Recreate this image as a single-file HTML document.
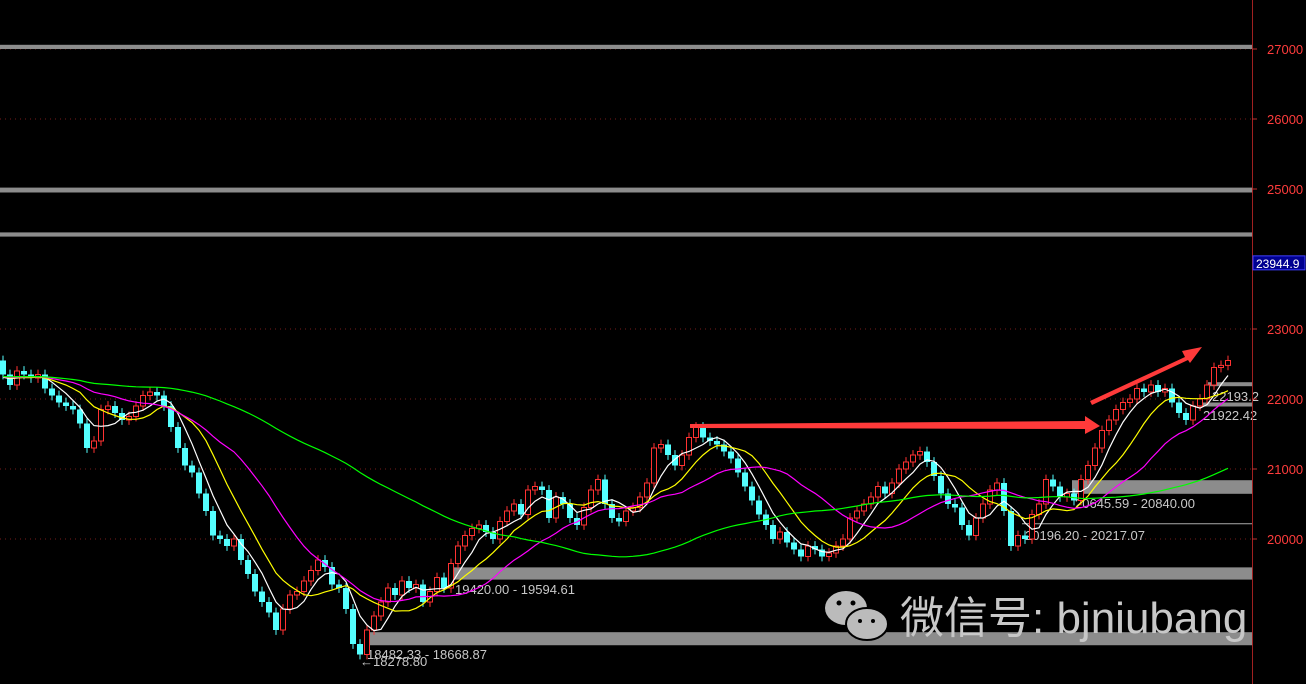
<!DOCTYPE html>
<html><head><meta charset="utf-8">
<style>
html,body{margin:0;padding:0;background:#000;}
svg{display:block;}
text{font-family:"Liberation Sans",sans-serif;}
</style></head>
<body>
<svg id="chart" width="1306" height="684" viewBox="0 0 1306 684" xmlns="http://www.w3.org/2000/svg">
<rect width="1306" height="684" fill="#000"/>
<g id="grid"></g>
<g id="zones"></g>
<g id="candles"></g>
<g id="mas"></g>
<g id="axis"></g>
<g>
<polygon points="690,424 1085,421 1085,416 1100,426 1085,434 1085,429 690,428" fill="#ff3a3a"/>
<polygon points="1090,401 1185,357 1182,351 1202,347 1190,363 1188,360 1092,405" fill="#ff3a3a"/>
</g>
<g>
<ellipse cx="846" cy="608" rx="21" ry="17" fill="#bbb"/>
<ellipse cx="867" cy="624" rx="21" ry="16" fill="#bbb" stroke="#000" stroke-width="2"/>
<circle cx="839" cy="603" r="2.5" fill="#000"/><circle cx="853" cy="603" r="2.5" fill="#000"/>
<circle cx="860" cy="621" r="2" fill="#000"/><circle cx="873" cy="621" r="2" fill="#000"/>
<text x="900" y="633" font-size="44" fill="#c8c8c8" font-family="Liberation Sans, Noto Sans CJK SC, sans-serif">微信号: bjniubang</text>
</g>
</svg>
<script>
const closes = [22350,22200,22400,22350,22300,22350,22150,22050,21950,21900,
21850,21650,21300,21400,21850,21900,21800,21700,21750,21900,
22050,22100,22050,21900,21600,21300,21050,20950,20650,20400,
20050,20000,19900,20000,19700,19500,19250,19100,18950,18700,
19000,19200,19250,19400,19550,19700,19600,19350,19300,19000,
18500,18350,18700,18900,19100,19300,19200,19400,19300,19350,
19100,19250,19450,19300,19650,19900,20050,20150,20200,20100,
20000,20250,20400,20500,20350,20700,20750,20700,20300,20600,
20500,20300,20200,20450,20700,20850,20500,20300,20250,20400,
20450,20600,20800,21300,21350,21200,21050,21200,21450,21600,
21450,21400,21350,21250,21150,20950,20750,20550,20350,20200,
20000,20100,19950,19850,19750,19900,19850,19750,19800,19900,
20000,20300,20400,20500,20600,20750,20650,20800,21000,21100,
21200,21250,21100,20900,20650,20500,20450,20200,20050,20300,
20500,20700,20800,20400,19900,20050,20000,20350,20500,20850,
20750,20600,20650,20550,20850,21050,21300,21550,21700,21850,
21950,22000,22150,22100,22200,22100,22150,21950,21800,21700,
21900,22000,22200,22450,22480,22550];
const history = [22300,22250,22350,22400,22300,22200,22250,22300,22350,22400,22450,22400,22350,22300,22250,22300,22350,22400,22300,22250,22300,22350,22400,22350,22300,22250,22300,22350,22300,22250];
const yTicks = [27000,26000,25000,23000,22000,21000,20000];
const priceTag = 23944.9;
const zoneBars = [[27060,27000],[25020,24950],[24380,24320]];
const NS="http://www.w3.org/2000/svg";
const yOf = p => 49 + (27000 - p) * 0.07;
const xOf = i => 3 + i * 7;
function mk(tag, attrs, parent){const e=document.createElementNS(NS,tag);for(const k in attrs)e.setAttribute(k,attrs[k]);parent.appendChild(e);return e;}
const grid=document.getElementById('grid'), zones=document.getElementById('zones'), cg=document.getElementById('candles'), mg=document.getElementById('mas'), ax=document.getElementById('axis');
yTicks.forEach(t=>{const l=mk('line',{x1:0,x2:1252,y1:yOf(t),y2:yOf(t),stroke:'#7a1c1c','stroke-dasharray':'1 4'},grid);

});
zoneBars.forEach(b=>{const r=mk('rect',{x:0,y:yOf(b[0]),width:1252,height:yOf(b[1])-yOf(b[0]),fill:'#8c8c8c'},zones);

});
const zoneDefs=[[451,19594.61,19420],[365,18668.87,18482.33],[1072,20840,20645.59],[1208,22240,22193.2],[1200,21950,21922.42]];
zoneDefs.forEach(z=>{const r=mk('rect',{x:z[0],y:yOf(z[1]),width:1252-z[0],height:Math.max(4,yOf(z[2])-yOf(z[1])),fill:'#8c8c8c'},zones);

});
const thin=mk('line',{x1:1022,x2:1252,y1:yOf(20217),y2:yOf(20217),stroke:'#aaa'},zones);


const labels=[[455,594,'19420.00 - 19594.61'],[367,659,'18482.33 - 18668.87'],[360,666,'←18278.80'],[1075,508,'20645.59 - 20840.00'],[1025,540,'20196.20 - 20217.07'],[1212,401,'22193.2'],[1203,420,'21922.42']];
labels.forEach(l=>{const t=mk('text',{x:l[0],y:l[1],'font-size':13,fill:'#c8c8c8'},zones);t.textContent=l[2];

});
closes.forEach((c,i)=>{
  const o = i===0 ? 22550 : closes[i-1];
  const up = c>=o;
  const x=xOf(i);
  const hi=Math.max(o,c)+70, lo=Math.min(o,c)-70;
  const col= up?'#ff3232':'#54ffff';
  const g=mk('g',{},cg);
  
  
  mk('line',{x1:x,x2:x,y1:yOf(hi),y2:yOf(lo),stroke:col},g);
  const top=yOf(Math.max(o,c)), h=Math.max(1,yOf(Math.min(o,c))-top);
  if(up) mk('rect',{x:x-2.5,y:top,width:5,height:h,fill:'#000',stroke:col},g);
  else mk('rect',{x:x-3,y:top,width:6,height:h,fill:col},g);
});
const all=history.concat(closes);
function ma(n){const pts=[];for(let i=0;i<closes.length;i++){const j=i+history.length;let s=0,k=0;for(let m=Math.max(0,j-n+1);m<=j;m++){s+=all[m];k++;}pts.push(xOf(i)+','+yOf(s/k).toFixed(1));}return pts.join(' ');}
[[5,'#ffffff','ma5-line'],[10,'#ffff00','ma10-line'],[20,'#ff00ff','ma20-line'],[60,'#00ff00','ma60-line']].forEach(m=>{
  const p=mk('polyline',{points:ma(m[0]),fill:'none',stroke:m[1],'stroke-width':1.2},mg);
  
  
});
const al=mk('line',{x1:1252.5,x2:1252.5,y1:0,y2:684,stroke:'#a02020'},ax);


yTicks.forEach(t=>{
  const tk=mk('line',{x1:1252,x2:1257,y1:yOf(t),y2:yOf(t),stroke:'#c03030'},ax);
  
  
  const tx=mk('text',{x:1267,y:yOf(t)+5,'font-size':13,fill:'#ff3c3c'},ax);tx.textContent=t;
  
  
});
const tagR=mk('rect',{x:1253,y:yOf(priceTag)-7,width:52,height:14,fill:'#000090',stroke:'#4040ff'},ax);


const tagT=mk('text',{x:1256,y:yOf(priceTag)+5,'font-size':12,fill:'#fff'},ax);tagT.textContent=priceTag;


</script>
</body></html>
